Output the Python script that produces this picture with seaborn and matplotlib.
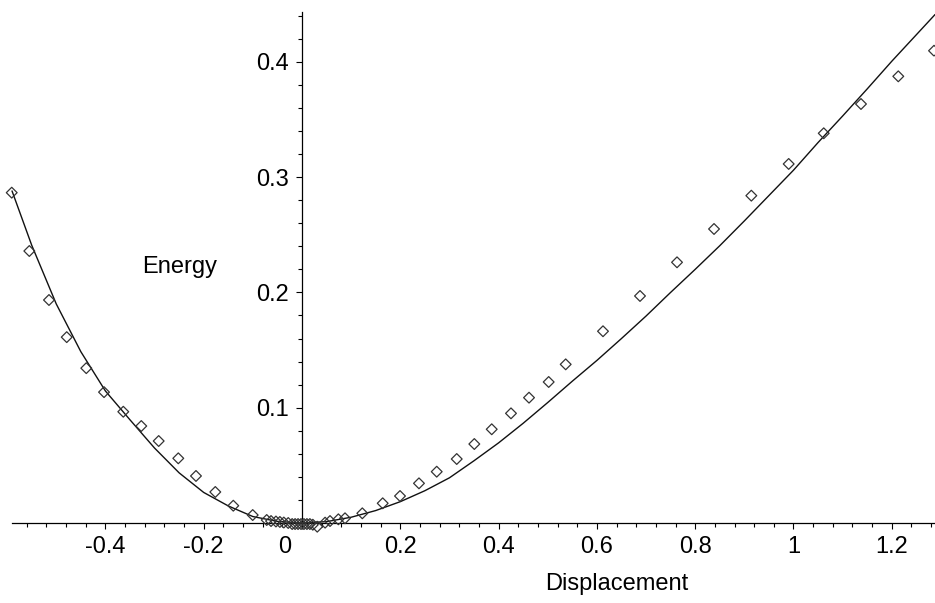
import numpy as np
import pandas as pd
import matplotlib
matplotlib.use("Agg")
import matplotlib.pyplot as plt
import matplotlib.transforms as mtransforms
from matplotlib.ticker import FixedLocator, FuncFormatter
import seaborn as sns

# ---- data ----
pts_x = [-0.5906, -0.5548, -0.5148, -0.4787, -0.4389, -0.4028, -0.3636, -0.3270,
         -0.2916, -0.2517, -0.2157, -0.1764, -0.1398, -0.1003,
         -0.0718, -0.0630, -0.0530, -0.0450, -0.0370, -0.0280, -0.0200, -0.0140,
         -0.0080, -0.0020, 0.0040, 0.0100, 0.0160, 0.0220, 0.0310, 0.0470,
         0.0570, 0.0740, 0.0875,
         0.1227, 0.1642, 0.1994, 0.2380, 0.2741, 0.3148, 0.3506, 0.3860,
         0.4252, 0.4619, 0.5019, 0.5365, 0.6124, 0.6877, 0.7630, 0.8383,
         0.9142, 0.9902, 1.0615, 1.1373, 1.2132, 1.2859]
pts_y = [0.2865, 0.2359, 0.1934, 0.1612, 0.1343, 0.1135, 0.0965, 0.0841,
         0.0711, 0.0561, 0.0408, 0.0269, 0.0150, 0.0069,
         0.0026, 0.0017, 0.0013, 0.0009, 0.0004, 0.0000, -0.0009, -0.0009,
         -0.0009, -0.0009, -0.0009, -0.0009, -0.0009, -0.0015, -0.0032, 0.0003,
         0.0017, 0.0032, 0.0041,
         0.0084, 0.0171, 0.0234, 0.0344, 0.0445, 0.0555, 0.0685, 0.0813,
         0.0951, 0.1087, 0.1223, 0.1376, 0.1663, 0.1969, 0.2261, 0.2550,
         0.2839, 0.3114, 0.3380, 0.3634, 0.3874, 0.4096]

curve_x = [-0.590, -0.550, -0.500, -0.450, -0.400, -0.350, -0.300, -0.250,
           -0.200, -0.150, -0.100, -0.050, 0.000, 0.050, 0.100, 0.150,
           0.200, 0.250, 0.300, 0.350, 0.400, 0.450, 0.500, 0.550,
           0.600, 0.650, 0.700, 0.750, 0.800, 0.850, 0.900, 0.950,
           1.000, 1.050, 1.100, 1.150, 1.200, 1.250, 1.288]
curve_y = [0.2880, 0.2410, 0.1900, 0.1486, 0.1145, 0.0895, 0.0650, 0.0435,
           0.0265, 0.0148, 0.0056, 0.0014, 0.0000, 0.0012, 0.0050, 0.0108,
           0.0185, 0.0280, 0.0392, 0.0540, 0.0695, 0.0865, 0.1045, 0.1230,
           0.1410, 0.1600, 0.1795, 0.2000, 0.2200, 0.2405, 0.2620, 0.2840,
           0.3060, 0.3300, 0.3530, 0.3765, 0.4005, 0.4235, 0.4410]

x_label = "Displacement"
y_label = "Energy"

# ---- figure ----
sns.set_style("white")
plt.rcParams["font.family"] = ["Liberation Sans", "DejaVu Sans"]

W, H = 935, 603
fig = plt.figure(figsize=(W / 100, H / 100), dpi=100)
ax = fig.add_axes([0, 0, 1, 1])
ax.set_facecolor("white")

x0_px, x_scale = 302.0, 491.5
y0_px, y_scale = 523.0, 1153.0
ax.set_xlim((0 - x0_px) / x_scale, (W - x0_px) / x_scale)
ax.set_ylim((y0_px - H) / y_scale, y0_px / y_scale)

df_c = pd.DataFrame({"x": curve_x, "y": curve_y})
df_p = pd.DataFrame({"x": pts_x, "y": pts_y})
sns.lineplot(data=df_c, x="x", y="y", ax=ax, color="#111111", lw=1.0,
             estimator=None, sort=True, zorder=3)
sns.scatterplot(data=df_p, x="x", y="y", ax=ax, marker="D", s=30,
                facecolor="none", edgecolor="#333333", linewidth=0.9, zorder=4)

# axes through origin
for s in ["top", "right"]:
    ax.spines[s].set_visible(False)
ax.spines["left"].set_position(("data", 0))
ax.spines["bottom"].set_position(("data", 0))
ax.spines["left"].set_bounds(0, 0.443)
ax.spines["bottom"].set_bounds(-0.59, 1.288)
for s in ["left", "bottom"]:
    ax.spines[s].set_color("black")
    ax.spines[s].set_linewidth(0.9)

xmaj = [-0.4, -0.2, 0.0, 0.2, 0.4, 0.6, 0.8, 1.0, 1.2]
xmin = [round(-0.56 + 0.04 * i, 2) for i in range(47)]
ymaj = [0.1, 0.2, 0.3, 0.4]
ymin = [round(0.02 * i, 2) for i in range(1, 23)]
ax.xaxis.set_major_locator(FixedLocator(xmaj))
ax.xaxis.set_minor_locator(FixedLocator(xmin))
ax.yaxis.set_major_locator(FixedLocator(ymaj))
ax.yaxis.set_minor_locator(FixedLocator(ymin))

fmt = FuncFormatter(lambda v, p: "%g" % round(v, 2))
ax.xaxis.set_major_formatter(fmt)
ax.yaxis.set_major_formatter(fmt)

ax.tick_params(axis="x", which="major", direction="out", length=4.5, width=0.8,
               pad=5, labelsize=17, colors="black", bottom=True)
ax.tick_params(axis="x", which="minor", direction="out", length=3, width=0.8,
               colors="black", bottom=True)
ax.tick_params(axis="y", which="major", direction="out", length=4.5, width=0.8,
               pad=5, labelsize=17, colors="black", left=True)
ax.tick_params(axis="y", which="minor", direction="out", length=3, width=0.8,
               colors="black", left=True)

ax.set_xlabel("")
ax.set_ylabel("")

fig.canvas.draw()
# shift the "0" tick label to the left of the vertical axis, as in the reference
for t in ax.get_xticklabels():
    if t.get_text() == "0":
        t.set_transform(t.get_transform() +
                        mtransforms.ScaledTranslation(-0.17, 0, fig.dpi_scale_trans))

fig.text(180 / W, 1 - 267 / H, y_label, ha="center", va="center", fontsize=17,
         color="black")
fig.text(617 / W, 1 - 584 / H, x_label, ha="center", va="center", fontsize=17,
         color="black")

fig.savefig("out.png", dpi=100, facecolor="white")
